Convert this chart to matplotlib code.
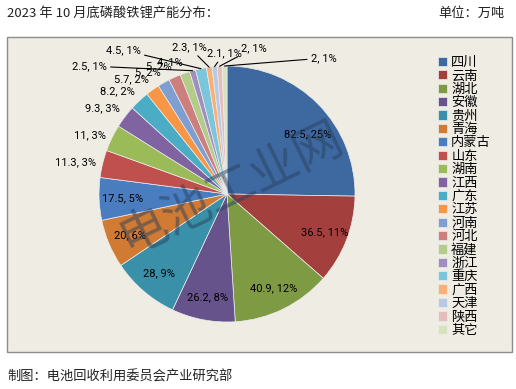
import matplotlib
matplotlib.use('Agg')
import matplotlib.pyplot as plt
import numpy as np
from matplotlib.patches import Rectangle

plt.rcParams['font.family'] = ['Noto Sans CJK SC', 'DejaVu Sans']

# data (万吨)
regions = ['四川', '云南', '湖北', '安徽', '贵州', '青海', '内蒙古', '山东', '湖南', '江西',
           '广东', '江苏', '河南', '河北', '福建', '浙江', '重庆', '广西', '天津', '陕西', '其它']
capacity = [82.5, 36.5, 40.9, 26.2, 28, 20, 17.5, 11.3, 11, 9.3,
            8.2, 5.7, 5, 5, 4, 2.5, 4.5, 2.3, 2.1, 2, 2]
percent = [25, 11, 12, 8, 9, 6, 5, 3, 3, 3, 2, 2, 2, 2, 1, 1, 1, 1, 1, 1, 1]

colors = ['#3D69A0', '#A3403D', '#7E9B43', '#66538B', '#3A90A8', '#D07A34',
          '#4A7DC0', '#C0504D', '#9BBB59', '#8064A2', '#4BACC6', '#F79646',
          '#7F9FD0', '#CD7F7D', '#B3CC89', '#A08EBF', '#7CC6DB', '#F9B077',
          '#B9C9E3', '#E4BDBD', '#D7E3BF']

# label layout: 0-6 inside, 7-14 just outside, 15-20 pulled out with leader lines
n_inside = 7
n_outside = 15
callout_pos = {15: (-1.078, 1.0), 16: (-0.8125, 1.125), 17: (-0.297, 1.148),
               18: (-0.023, 1.10), 19: (0.211, 1.14), 20: (0.758, 1.0625)}

W, H = 516, 389
cx, cy, R = 227, 194, 128   # pie centre and radius in pixels

fig = plt.figure(figsize=(W / 100, H / 100), dpi=100)
ax = fig.add_axes([0, 0, 1, 1])

def px(x, y):
    return (x - cx) / R, (cy - y) / R

# chart area
x0, y0 = px(7, 352)
x1, y1 = px(512, 37)
ax.add_patch(Rectangle((x0, y0), x1 - x0, y1 - y0, facecolor='#EEECE3',
                       edgecolor='#8C8C8C', lw=1, zorder=0))

wedges, _ = ax.pie(capacity, colors=colors, startangle=90, counterclock=False,
                   radius=1, center=(0, 0), frame=True,
                   wedgeprops=dict(edgecolor='#EDEDED', linewidth=0.5))
ax.set_xlim(-cx / R, (W - cx) / R)
ax.set_ylim(-(H - cy) / R, cy / R)
ax.set_aspect('equal')
ax.axis('off')

total = sum(capacity)
cum = np.cumsum([0] + capacity)
lab_font = dict(family=['Roboto', 'DejaVu Sans'], fontsize=8, color='black')
for i, (v, p) in enumerate(zip(capacity, percent)):
    mid = 90 - (cum[i] + v / 2) / total * 360
    dx, dy = np.cos(np.radians(mid)), np.sin(np.radians(mid))
    txt = f'{v:g}, {p}%'
    if i == 0:
        # Excel nudges the big slice label a little lower
        ax.text(0.78 * np.cos(np.radians(mid - 8)), 0.78 * np.sin(np.radians(mid - 8)),
                txt, ha='center', va='center', **lab_font)
    elif i < n_inside:
        ax.text(0.82 * dx, 0.82 * dy, txt, ha='center', va='center', **lab_font)
    elif i < n_outside:
        va = 'bottom' if dy > 0.5 else 'center'
        ax.text(1.05 * dx, 1.05 * dy, txt, ha='right', va=va, **lab_font)
    else:
        ax.annotate(txt, xy=(dx, dy), xytext=callout_pos[i], ha='center', va='center',
                    arrowprops=dict(arrowstyle='-', color='black', lw=0.8,
                                    shrinkA=1, shrinkB=0), **lab_font)

# watermark
wx, wy = px(231, 188)
ax.text(wx, wy, '电池工业网', rotation=26, fontsize=35, fontweight='light',
        color='#27405E', alpha=0.5, ha='center', va='center', zorder=5)

ax.legend(wedges, regions, loc='upper left', bbox_to_anchor=(438 / W, 1 - 56 / H),
          bbox_transform=fig.transFigure, frameon=False, fontsize=9.5,
          handlelength=0.7, handleheight=0.7, handletextpad=0.3,
          labelspacing=0.03, borderpad=0, borderaxespad=0)

fig.text(7 / W, 1 - 13 / H, '2023 年 10 月底磷酸铁锂产能分布：', fontsize=9.5,
         color='#222222', ha='left', va='center')
fig.text(505 / W, 1 - 13 / H, '单位：万吨', fontsize=9.5, color='#222222',
         ha='right', va='center')
fig.text(7 / W, 1 - 377 / H, '制图：电池回收利用委员会产业研究部', fontsize=9.5,
         color='#222222', ha='left', va='center')

fig.savefig('out.png', dpi=100, facecolor='white')
